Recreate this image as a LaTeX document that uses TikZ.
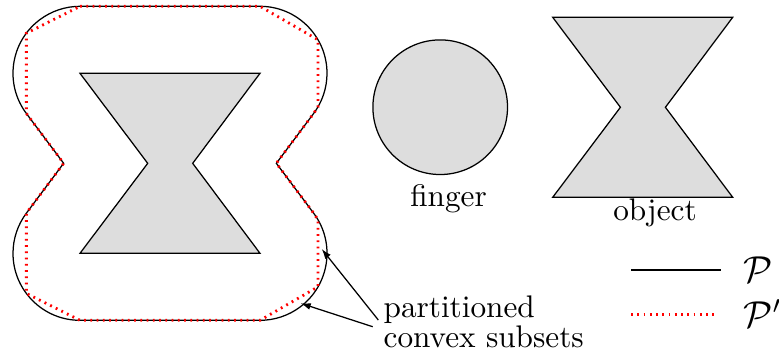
\documentclass[tikz,border=0pt]{standalone}
\usetikzlibrary{arrows.meta}
\definecolor{shapegray}{RGB}{221,221,221}
\begin{document}
\begin{tikzpicture}[x=0.32pt,y=-0.32pt,
  bodyfill/.style={draw=black, fill=shapegray, line width=0.4pt, line join=miter},
  outlineP/.style={draw=black, line width=0.4pt},
  outlinePp/.style={draw=red, line width=0.9pt, dash pattern=on 0.6pt off 1.4pt},
  pointer/.style={draw=black, line width=0.4pt, -{Latex[length=3.2pt,width=2.2pt]}},
  lbl/.style={inner sep=0pt, font=\normalsize},
  leglbl/.style={inner sep=0pt, font=\large, anchor=base west}]
\useasboundingbox (0,0) rectangle (779,356);

% configuration-space outline P
\draw[outlineP] (80,6.3) -- (260,6.3)
  arc[start angle=90,end angle=-36.8,radius=21.44pt]
  -- (276.35,163.3) -- (313.65,213.17)
  arc[start angle=36.8,end angle=-90,radius=21.44pt]
  -- (80,320.3)
  arc[start angle=-90,end angle=-216.8,radius=21.44pt]
  -- (63.65,163.3) -- (26.35,113.43)
  arc[start angle=-143.2,end angle=-270,radius=21.44pt]
  -- cycle;

% polygonal approximation P'
\draw[outlinePp] (80,6.3) -- (260,6.3) -- (318.02,39.8) -- (318.02,106.8)
  -- (313.65,113.43) -- (276.35,163.3) -- (313.65,213.17) -- (318.02,219.8)
  -- (318.02,286.8) -- (260,320.3) -- (80,320.3) -- (26.35,293.43)
  -- (26.35,213.17) -- (63.65,163.3) -- (26.35,113.43) -- (26.35,33.17) -- cycle;

% inner bowtie
\draw[bodyfill] (80,73.3) -- (260,73.3) -- (192.7,163.3) -- (260,253.3)
  -- (80,253.3) -- (147.7,163.3) -- cycle;

% finger
\draw[bodyfill] (440.2,107.2) circle[radius=21.54pt];
\node[lbl, anchor=base] (fingerlbl) at (448.5,206.7) {finger};

% object
\draw[bodyfill] (552.7,17.3) -- (732.7,17.3) -- (665.4,107.3) -- (732.7,197.3)
  -- (552.7,197.3) -- (620.4,107.3) -- cycle;
\node[lbl, anchor=base] (objectlbl) at (655,220) {object};

% annotation
\node[lbl, anchor=base west] (partlbl) at (383,317.5) {partitioned};
\node[lbl, anchor=base west] (convlbl) at (383,347) {convex subsets};
\coordinate (tipa) at (321.7,249);
\coordinate (tipb) at (300.7,303.3);
\coordinate (taila) at (378.3,320);
\coordinate (tailb) at (372.7,326.7);
\draw[pointer] (taila) -- (tipa);
\draw[pointer] (tailb) -- (tipb);

% legend
\coordinate (lega) at (631,270);
\coordinate (legb) at (721,270);
\coordinate (legc) at (631,314.3);
\coordinate (legd) at (717,314.3);
\draw[outlineP] (lega) -- (legb);
\draw[outlinePp] (legc) -- (legd);
\node[leglbl] (legP) at (743,282) {$\mathcal{P}$};
\node[leglbl] (legPp) at (743,327) {$\mathcal{P}'$};
\end{tikzpicture}
\end{document}
